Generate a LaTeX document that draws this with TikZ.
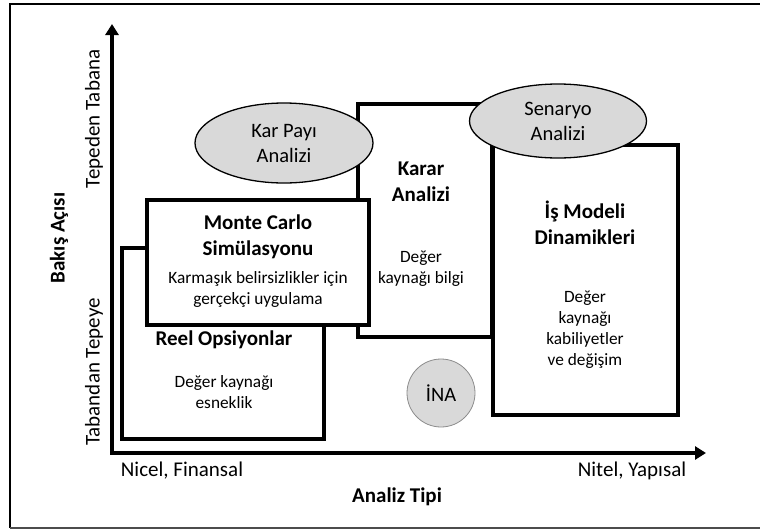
\documentclass[tikz,border=0pt]{standalone}
\usepackage{fontspec}
\setmainfont{Carlito}
\usetikzlibrary{arrows.meta,shapes.geometric}
\tikzset{
  box/.style={draw, line width=3.5pt, fill=white, inner sep=0pt},
  oval/.style={ellipse, draw, fill=black!15, line width=1.3pt, inner sep=0pt, align=center,
    font=\fontsize{20.5}{25}\selectfont},
  title/.style={font=\fontsize{21}{26}\selectfont\bfseries, align=center},
  note/.style={font=\fontsize{17.3}{21}\selectfont, align=center},
  axlabel/.style={font=\fontsize{21}{22}\selectfont},
}
\begin{document}
\begin{tikzpicture}[x=1pt,y=-1pt]
  \useasboundingbox (0,0) rectangle (760,530);
  % Frame
  \draw [line width=2.5pt] (762,4) -- (10,4) -- (10,528);
  \draw [line width=1.5pt, black!70] (10,528) -- (762,528);
  % Axes
  \coordinate (o) at (112,453);
  \coordinate (ytip) at (112,24);
  \coordinate (xtip) at (706,453);
  \draw [line width=3.5pt, {Triangle[length=11pt,width=13pt]}-{Triangle[length=11pt,width=13pt]}] (ytip) -- (o) -- (xtip);
  \node [axlabel, rotate=90] (top) at (94,119) {Tepeden Tabana};
  \node [axlabel, rotate=90] (bottom) at (94,372) {Tabandan Tepeye};
  \node [axlabel, font=\fontsize{21}{22}\selectfont\bfseries, rotate=90] (yname) at (59,238) {Bakış Açısı};
  \node [axlabel] (left) at (182,471) {Nicel, Finansal};
  \node [axlabel] (right) at (632,471) {Nitel, Yapısal};
  \node [axlabel, font=\fontsize{21}{22}\selectfont\bfseries] (xname) at (397,497) {Analiz Tipi};
  % Boxes
  \node [box, minimum width=202, minimum height=191] (reel) at (223,343.5) {};
  \node [title] (reeltitle) at (224,340) {Reel Opsiyonlar};
  \node [note] (reeltext) at (224,392) {Değer kaynağı\\esneklik};
  \node [box, minimum width=134, minimum height=233] (karar) at (425,220.5) {};
  \node [title] (karartitle) at (421,182) {Karar\\Analizi};
  \node [note] (karartext) at (421,269) {Değer\\kaynağı bilgi};
  \node [box, minimum width=222, minimum height=125] (monte) at (258,262.5) {};
  \node [title] (montetitle) at (258,237) {Monte Carlo\\Simülasyonu};
  \node [note] (montetext) at (258,289) {Karmaşık belirsizlikler için\\gerçekçi uygulama};
  \node [box, minimum width=185, minimum height=270] (model) at (585.5,280) {};
  \node [title] (modeltitle) at (585,223) {İş Modeli\\Dinamikleri};
  \node [note] (modeltext) at (585,330) {Değer\\kaynağı\\kabiliyetler\\ve değişim};
  % Ellipses
  \node [oval, minimum width=178, minimum height=80] (karpayi) at (284,143) {Kar Payı\\Analizi};
  \node [oval, minimum width=177, minimum height=74] (senaryo) at (558,121) {Senaryo\\Analizi};
  \node [oval, draw=black!45, line width=0.8pt, minimum size=68] (ina) at (441,393) {İNA};
\end{tikzpicture}
\end{document}
